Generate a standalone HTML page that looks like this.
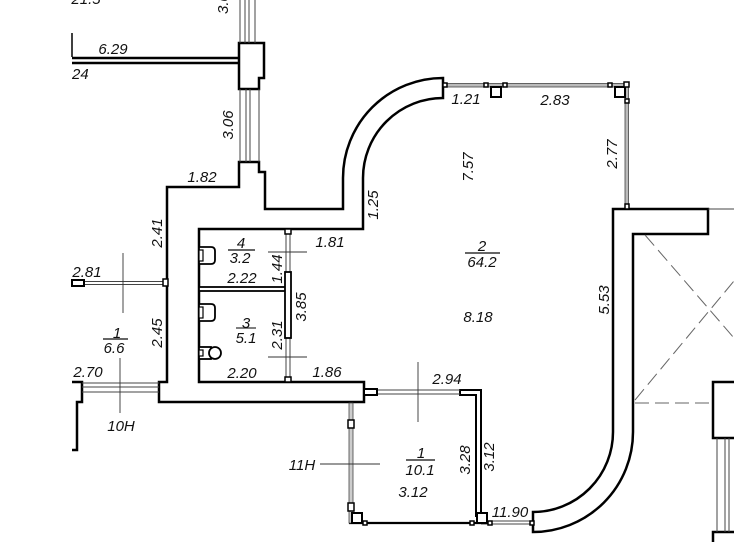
<!DOCTYPE html>
<html><head><meta charset="utf-8"><style>
html,body{margin:0;padding:0;background:#fff;}
svg{display:block;}
text{font-family:"Liberation Sans",sans-serif;font-style:italic;font-size:15px;fill:#111;}
</style></head><body>
<svg width="734" height="542" viewBox="0 0 734 542" xmlns="http://www.w3.org/2000/svg">
<rect width="734" height="542" fill="#fff"/>
<g fill="none" stroke="#000" stroke-width="2.5" stroke-linejoin="miter">
  <!-- main left/top wall -->
  <path d="M239,162 L239,187 L167,187 L167,382 L159,382 L159,402 L364,402 L364,382 L199,382 L199,229 L363,229 L363,178 A80,80 0 0 1 443,98 L443,78 A100,100 0 0 0 343,178 L343,209 L265,209 L265,172 L259,172 L259,162 Z"/>
  <!-- pillar -->
  <path d="M239,43 L264,43 L264,78 L259,78 L259,89 L239,89 Z"/>
  <!-- top-left wall -->
  <line x1="72" y1="58" x2="239" y2="58"/>
  <line x1="72" y1="63" x2="239" y2="63"/>
  <!-- right wall -->
  <path d="M613,209 L708,209 L708,234 L633,234 L633,432 A100,100 0 0 1 533,532 L533,512 A80,80 0 0 0 613,432 Z"/>
  <!-- right box -->
  <path d="M734,382 L713,382 L713,438 L734,438"/>
  <path d="M713,542 L713,532 L734,532"/>
  <!-- bottom-left shape -->
  <path d="M72,382 L82,382 L82,402 L77,402 L77,450 L72,450"/>
  <!-- room 10.1 right wall -->
  <path d="M460,390 L481,390 L481,516 L476,516 L476,395 L460,395 Z" stroke-width="2"/>
  <!-- bottom line -->
  <line x1="349" y1="523" x2="481" y2="523" stroke-width="2.2"/>
</g>
<line x1="72" y1="33" x2="72" y2="57" stroke="#000" stroke-width="1.5"/>
<!-- thin window lines -->
<g stroke="#444" stroke-width="1" fill="none">
  <line x1="240" y1="0" x2="240" y2="43"/>
  <line x1="245" y1="0" x2="245" y2="43"/>
  <line x1="249" y1="0" x2="249" y2="43"/>
  <line x1="255" y1="0" x2="255" y2="43"/>
  <line x1="240" y1="89" x2="240" y2="162"/>
  <line x1="246" y1="89" x2="246" y2="162"/>
  <line x1="250" y1="89" x2="250" y2="162"/>
  <line x1="259" y1="89" x2="259" y2="162"/>
  <line x1="708" y1="209" x2="734" y2="209"/>
  <line x1="717" y1="438" x2="717" y2="532"/>
  <line x1="725" y1="438" x2="725" y2="532"/>
  <line x1="729" y1="438" x2="729" y2="532"/>
  <!-- left window -->
  <line x1="72" y1="281.5" x2="165" y2="281.5"/>
  <line x1="72" y1="284.5" x2="165" y2="284.5"/>
  <!-- bottom-left window -->
  <line x1="82" y1="383" x2="159" y2="383"/>
  <line x1="82" y1="387" x2="159" y2="387"/>
  <line x1="82" y1="392" x2="159" y2="392"/>
  <!-- window 2.94 -->
  <line x1="377" y1="390" x2="460" y2="390"/>
  <line x1="377" y1="394" x2="460" y2="394"/>
  <!-- bottom right window -->
  <line x1="481" y1="521" x2="533" y2="521"/>
  <line x1="481" y1="524" x2="533" y2="524"/>
  <!-- partition thin -->
  <line x1="286" y1="229" x2="286" y2="382"/>
  <line x1="290" y1="229" x2="290" y2="382"/>
</g>
<!-- gray windows -->
<rect x="443" y="83.5" width="184" height="3.5" fill="#bbb" stroke="#444" stroke-width="0.8"/>
<rect x="625" y="85" width="3.5" height="124" fill="#bbb" stroke="#444" stroke-width="0.8"/>
<rect x="349" y="403" width="4" height="120" fill="#ccc" stroke="#444" stroke-width="0.8"/>
<!-- markers -->
<g fill="#fff" stroke="#000" stroke-width="1.5">
  <rect x="443" y="83" width="4" height="4"/>
  <rect x="484" y="83" width="4" height="4"/>
  <rect x="503" y="83" width="4" height="4"/>
  <rect x="608" y="83" width="4" height="4"/>
  <rect x="491" y="87" width="10" height="10" stroke-width="2"/>
  <rect x="615" y="87" width="10" height="10" stroke-width="2"/>
  <rect x="624" y="82" width="5" height="5"/>
  <rect x="625" y="99" width="4" height="4"/>
  <rect x="625" y="204" width="4" height="5"/>
  <rect x="72" y="280" width="12" height="6" stroke-width="2"/>
  <rect x="163" y="279" width="5" height="7"/>
  <rect x="364" y="389" width="13" height="6" stroke-width="2"/>
  <rect x="348" y="420" width="6" height="8"/>
  <rect x="348" y="503" width="6" height="8"/>
  <rect x="352" y="513" width="10" height="10" stroke-width="2"/>
  <rect x="477" y="513" width="10" height="10" stroke-width="2"/>
  <rect x="363" y="521" width="4" height="4"/>
  <rect x="470" y="521" width="4" height="4"/>
  <rect x="488" y="521" width="4" height="4"/>
  <rect x="530" y="521" width="4" height="4"/>
  <rect x="285" y="229" width="6" height="5"/>
  <rect x="285" y="377" width="6" height="5"/>
  <!-- partitions -->
  <rect x="199" y="287" width="89" height="4" stroke-width="1.8"/>
  <rect x="285" y="272" width="6" height="66" stroke-width="1.8"/>
</g>
<!-- fixtures -->
<g fill="#fff" stroke="#000" stroke-width="1.8">
  <path d="M199,247 L211,247 Q215,247 215,251 L215,260 Q215,264 211,264 L199,264 Z"/>
  <rect x="199" y="250" width="4" height="11" stroke-width="1.2"/>
  <path d="M199,304 L211,304 Q215,304 215,308 L215,317 Q215,321 211,321 L199,321 Z"/>
  <rect x="199" y="307" width="4" height="11" stroke-width="1.2"/>
  <rect x="199" y="347" width="12" height="12"/>
  <circle cx="215" cy="353" r="6"/>
  <rect x="199" y="350" width="4" height="6" stroke-width="1.2"/>
</g>
<!-- dashed -->
<g stroke="#666" stroke-width="1" stroke-dasharray="14,6" fill="none">
  <line x1="635" y1="403" x2="713" y2="403"/>
  <line x1="645" y1="235" x2="734" y2="338"/>
  <line x1="635" y1="400" x2="734" y2="281"/>
</g>
<!-- dim/leader lines -->
<g stroke="#333" stroke-width="0.9">
  <line x1="123" y1="253" x2="123" y2="313"/>
  <line x1="120" y1="358" x2="120" y2="413"/>
  <line x1="103" y1="339" x2="128" y2="339" stroke-width="1.5"/>
  <line x1="268" y1="252" x2="307" y2="252"/>
  <line x1="268" y1="357" x2="307" y2="357"/>
  <line x1="228" y1="250" x2="255" y2="250" stroke-width="1.5"/>
  <line x1="236" y1="328" x2="256" y2="328" stroke-width="1.2"/>
  <line x1="465" y1="253" x2="500" y2="253" stroke-width="1.5"/>
  <line x1="418" y1="362" x2="418" y2="422"/>
  <line x1="320" y1="464" x2="380" y2="464"/>
  <line x1="406" y1="460" x2="435" y2="460" stroke-width="1.5"/>
</g>
<!-- labels -->
<text x="86" y="4" text-anchor="middle">21.5</text>
<text transform="translate(228,14) rotate(-90)">3.06</text>
<text x="113" y="54" text-anchor="middle">6.29</text>
<text x="72" y="79">24</text>
<text transform="translate(233,125) rotate(-90)" text-anchor="middle">3.06</text>
<text x="202" y="182" text-anchor="middle">1.82</text>
<text transform="translate(162,233) rotate(-90)" text-anchor="middle">2.41</text>
<text x="87" y="277" text-anchor="middle">2.81</text>
<text transform="translate(162,333) rotate(-90)" text-anchor="middle">2.45</text>
<text x="117" y="338" text-anchor="middle">1</text>
<text x="114" y="353" text-anchor="middle">6.6</text>
<text x="88" y="377" text-anchor="middle">2.70</text>
<text x="121" y="431" text-anchor="middle">10H</text>
<text x="302" y="470" text-anchor="middle">11H</text>
<text x="327" y="377" text-anchor="middle">1.86</text>
<text x="447" y="384" text-anchor="middle">2.94</text>
<text x="421" y="458" text-anchor="middle">1</text>
<text x="420" y="475" text-anchor="middle">10.1</text>
<text x="413" y="497" text-anchor="middle">3.12</text>
<text transform="translate(470,460) rotate(-90)" text-anchor="middle">3.28</text>
<text transform="translate(494,457) rotate(-90)" text-anchor="middle">3.12</text>
<text x="510" y="517" text-anchor="middle">11.90</text>
<text transform="translate(378,205) rotate(-90)" text-anchor="middle">1.25</text>
<text x="466" y="104" text-anchor="middle">1.21</text>
<text x="555" y="105" text-anchor="middle">2.83</text>
<text transform="translate(473,167) rotate(-90)" text-anchor="middle">7.57</text>
<text transform="translate(617,154) rotate(-90)" text-anchor="middle">2.77</text>
<text transform="translate(609,300) rotate(-90)" text-anchor="middle">5.53</text>
<text x="482" y="251" text-anchor="middle">2</text>
<text x="482" y="267" text-anchor="middle">64.2</text>
<text x="478" y="322" text-anchor="middle">8.18</text>
<text x="241" y="248" text-anchor="middle">4</text>
<text x="240" y="263" text-anchor="middle">3.2</text>
<text x="242" y="283" text-anchor="middle">2.22</text>
<text transform="translate(282,269) rotate(-90)" text-anchor="middle">1.44</text>
<text x="330" y="247" text-anchor="middle">1.81</text>
<text transform="translate(306,307) rotate(-90)" text-anchor="middle">3.85</text>
<text x="246" y="328" text-anchor="middle">3</text>
<text x="246" y="343" text-anchor="middle">5.1</text>
<text transform="translate(282,335) rotate(-90)" text-anchor="middle">2.31</text>
<text x="242" y="378" text-anchor="middle">2.20</text>
</svg>
</body></html>
